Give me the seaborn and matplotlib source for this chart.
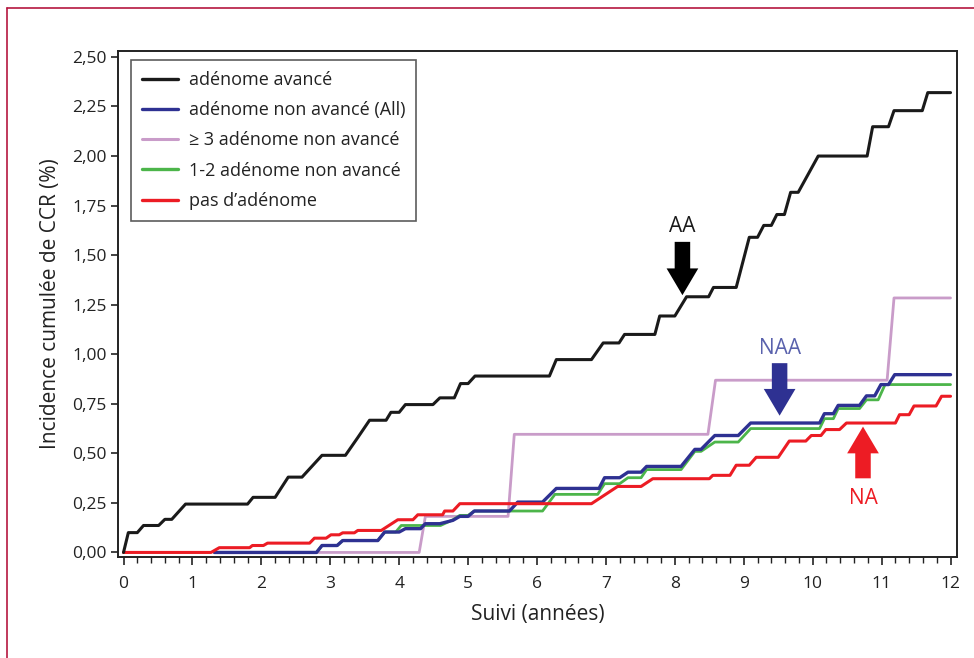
import numpy as np
import pandas as pd
import matplotlib
matplotlib.use("Agg")
import matplotlib.pyplot as plt
from matplotlib.patches import FancyArrow
from matplotlib.lines import Line2D
from matplotlib.ticker import MultipleLocator, FixedLocator
import seaborn as sns

# ---------------- data ----------------
series_names = ["adénome avancé", "adénome non avancé (All)", "\u2265 3 adénome non avancé",
                "1-2 adénome non avancé", "pas d\u2019adénome"]

aa_t = [0, 0.07, 0.2, 0.29, 0.51, 0.6, 0.7, 0.9, 1.8, 1.88, 2.2, 2.39, 2.59, 2.88, 3.22, 3.4, 3.57,
        3.81, 3.88, 4.0, 4.09, 4.49, 4.59, 4.8, 4.89, 5.0, 5.1, 6.18, 6.28, 6.79, 6.96, 7.19, 7.27,
        7.71, 7.78, 8.0, 8.17, 8.49, 8.56, 8.89, 9.08, 9.2, 9.29, 9.40, 9.48, 9.59, 9.68, 9.79,
        10.08, 10.79, 10.87, 11.1, 11.18, 11.59, 11.67, 12.0]
aa_v = [0, 0.10, 0.10, 0.136, 0.136, 0.167, 0.167, 0.244, 0.244, 0.278, 0.278, 0.38, 0.38, 0.49,
        0.49, 0.58, 0.667, 0.667, 0.707, 0.707, 0.746, 0.746, 0.78, 0.78, 0.852, 0.852, 0.89, 0.89,
        0.973, 0.973, 1.057, 1.057, 1.10, 1.10, 1.193, 1.193, 1.29, 1.29, 1.337, 1.337, 1.59, 1.59,
        1.65, 1.65, 1.705, 1.705, 1.817, 1.817, 2.0, 2.0, 2.148, 2.148, 2.229, 2.229, 2.32, 2.32]

naa_t = [1.32, 2.8, 2.88, 3.1, 3.18, 3.69, 3.79, 4.0, 4.09, 4.31, 4.38, 4.59, 4.78, 4.88, 5.0, 5.09,
         5.6, 5.72, 6.08, 6.28, 6.9, 6.98, 7.2, 7.32, 7.51, 7.59, 8.09, 8.29, 8.38, 8.58, 8.92, 9.1,
         10.1, 10.17, 10.3, 10.37, 10.68, 10.78, 10.9, 10.99, 11.1, 11.19, 12.0]
naa_v = [0, 0, 0.035, 0.035, 0.06, 0.06, 0.103, 0.103, 0.12, 0.12, 0.145, 0.145, 0.162, 0.182,
         0.182, 0.209, 0.209, 0.254, 0.254, 0.323, 0.323, 0.377, 0.377, 0.405, 0.405, 0.434, 0.434,
         0.52, 0.52, 0.59, 0.59, 0.653, 0.653, 0.70, 0.70, 0.742, 0.742, 0.79, 0.79, 0.847, 0.847,
         0.897, 0.897]

naa3_t = [1.32, 4.29, 4.38, 5.58, 5.67, 8.48, 8.59, 11.08, 11.18, 12.0]
naa3_v = [0, 0, 0.182, 0.182, 0.596, 0.596, 0.869, 0.869, 1.284, 1.284]

naa12_t = [1.32, 2.8, 2.88, 3.1, 3.18, 3.69, 3.79, 3.95, 4.03, 4.6, 4.78, 4.88, 5.0, 5.09, 6.08,
           6.26, 6.88, 6.98, 7.2, 7.32, 7.51, 7.59, 8.09, 8.29, 8.38, 8.58, 8.92, 9.1, 10.1, 10.17,
           10.3, 10.37, 10.68, 10.78, 10.95, 11.05, 12.0]
naa12_v = [0, 0, 0.035, 0.035, 0.06, 0.06, 0.103, 0.103, 0.136, 0.136, 0.165, 0.187, 0.187, 0.209,
           0.209, 0.293, 0.293, 0.347, 0.347, 0.377, 0.377, 0.418, 0.418, 0.51, 0.51, 0.557, 0.557,
           0.625, 0.625, 0.675, 0.675, 0.726, 0.726, 0.77, 0.77, 0.847, 0.847]

na_t = [0, 1.27, 1.39, 1.83, 1.87, 2.03, 2.09, 2.7, 2.77, 2.94, 3.01, 3.13, 3.18, 3.35, 3.4, 3.74,
        3.98, 4.2, 4.27, 4.63, 4.66, 4.78, 4.88, 6.79, 7.17, 7.51, 7.68, 8.5, 8.55, 8.8, 8.89, 9.08,
        9.18, 9.5, 9.66, 9.9, 9.98, 10.12, 10.19, 10.39, 10.49, 11.2, 11.26, 11.4, 11.47, 11.79,
        11.87, 12.0]
na_v = [0, 0, 0.024, 0.024, 0.035, 0.035, 0.047, 0.047, 0.072, 0.072, 0.089, 0.089, 0.099, 0.099,
        0.111, 0.111, 0.165, 0.165, 0.19, 0.19, 0.209, 0.209, 0.246, 0.246, 0.333, 0.333, 0.372,
        0.372, 0.389, 0.389, 0.44, 0.44, 0.48, 0.48, 0.562, 0.562, 0.59, 0.59, 0.62, 0.62, 0.653,
        0.653, 0.695, 0.695, 0.739, 0.739, 0.788, 0.788]

x_ticks = list(range(0, 13))
y_ticks = [0, 0.25, 0.5, 0.75, 1.0, 1.25, 1.5, 1.75, 2.0, 2.25, 2.5]
y_tick_labels = ["0,00", "0,25", "0,50", "0,75", "1,00", "1,25", "1,50", "1,75", "2,00", "2,25", "2,50"]

# arrows: (x, tail_y, tip_y, label, label_y)
arrow_aa = (8.11, 1.567, 1.298, "AA", 1.644)
arrow_naa = (9.52, 0.955, 0.690, "NAA", 1.027)
arrow_na = (10.73, 0.374, 0.635, "NA", 0.273)

# ---------------- style ----------------
sns.set_theme(style="white")
plt.rcParams['font.family'] = ['Open Sans', 'DejaVu Sans']

colors = {
    series_names[0]: "#1a1a1a",
    series_names[1]: "#2e3192",
    series_names[2]: "#c99cc9",
    series_names[3]: "#4cb54a",
    series_names[4]: "#ec1c24",
}

fig = plt.figure(figsize=(9.74, 6.58), dpi=100)
ax = fig.add_axes([118 / 974, 1 - 557 / 658, (957 - 118) / 974, (557 - 51) / 658])

draw = [
    (series_names[2], naa3_t, naa3_v, 2.0, 2),
    (series_names[3], naa12_t, naa12_v, 2.0, 3),
    (series_names[1], naa_t, naa_v, 2.4, 4),
    (series_names[4], na_t, na_v, 2.2, 5),
    (series_names[0], aa_t, aa_v, 2.2, 6),
]
for name, t, v, lw, z in draw:
    df = pd.DataFrame({"t": t, "v": v})
    sns.lineplot(data=df, x="t", y="v", ax=ax, color=colors[name], linewidth=lw,
                 sort=False, estimator=None, zorder=z, legend=False)

ax.set_xlim(-0.08, 12.094)
ax.set_ylim(-0.023, 2.53)

ax.xaxis.set_major_locator(FixedLocator(x_ticks))
ax.xaxis.set_minor_locator(MultipleLocator(0.2))
ax.set_xticklabels([str(x) for x in x_ticks])
ax.yaxis.set_major_locator(FixedLocator(y_ticks))
ax.set_yticklabels(y_tick_labels)

ax.tick_params(axis="x", which="major", direction="out", length=6, width=1.2, color="#222222",
               labelsize=12.5, labelcolor="#222222", pad=8, bottom=True)
ax.tick_params(axis="x", which="minor", direction="out", length=4, width=1.0, color="#222222",
               bottom=True)
ax.tick_params(axis="y", which="major", direction="out", length=5, width=1.2, color="#222222",
               labelsize=12.5, labelcolor="#222222", pad=3, left=True)
for s in ax.spines.values():
    s.set_color("#222222")
    s.set_linewidth(1.4)
ax.grid(False)

ax.set_xlabel("Suivi (années)", fontsize=15, color="#222222", labelpad=8)
ax.set_ylabel("Incidence cumulée de CCR (%)", fontsize=15, color="#222222", labelpad=8)

# legend
leg_order = series_names
handles = [Line2D([0], [0], color=colors[n], linewidth=2.4 if n != series_names[2] else 2.2)
           for n in leg_order]
leg = ax.legend(handles, leg_order, loc="upper left", bbox_to_anchor=(0.0155, 0.982),
                frameon=True, fancybox=False, fontsize=13, handlelength=2.0, handletextpad=0.6,
                labelspacing=0.68, borderpad=0.6, borderaxespad=0)
leg.get_frame().set_edgecolor("#333333")
leg.get_frame().set_linewidth(1.2)
for txt in leg.get_texts():
    txt.set_color("#222222")

# arrows
def draw_arrow(spec, color, text_color):
    x, y0, y1, label, ly = spec
    arr = FancyArrow(x, y0, 0, y1 - y0, width=0.225, head_width=0.46, head_length=0.135,
                     length_includes_head=True, color=color, zorder=7, linewidth=0)
    ax.add_patch(arr)
    ax.text(x, ly, label, ha="center", va="center", fontsize=15, color=text_color, zorder=8)

draw_arrow(arrow_aa, "#000000", "#1a1a1a")
draw_arrow(arrow_naa, "#2e3192", "#5a62ad")
draw_arrow(arrow_na, "#ed1c24", "#ed1c24")

# decorative page border (top + left)
fig.add_artist(Line2D([7 / 974, 7 / 974], [0, 1 - 8 / 658], transform=fig.transFigure,
                      color="#b5173f", linewidth=1.2))
fig.add_artist(Line2D([7 / 974, 1], [1 - 8 / 658, 1 - 8 / 658], transform=fig.transFigure,
                      color="#b5173f", linewidth=1.2))

fig.savefig("out.png", dpi=100)
